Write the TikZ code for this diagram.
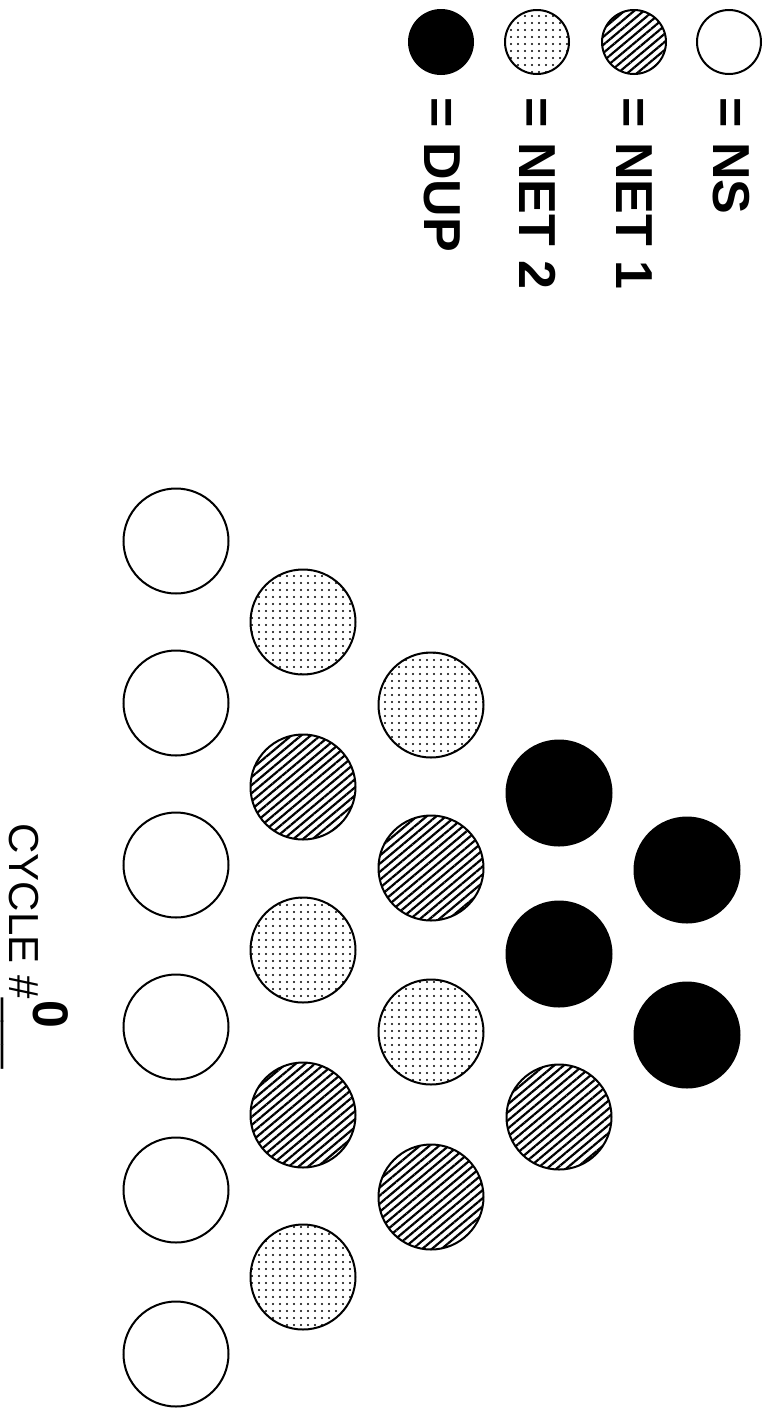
\documentclass[tikz,border=0pt]{standalone}
\usepackage{fontspec}
\setmainfont{Liberation Sans}
\usetikzlibrary{patterns.meta}

\begin{document}
\begin{tikzpicture}[x=0.5pt, y=-0.5pt,
		disc/.style={circle, draw, line width=1pt, minimum size=52.5pt, inner sep=0pt},
		keydisc/.style={disc, minimum size=32pt},
		nsfill/.style={fill=white},
		netafill/.style={pattern={Lines[angle=40,distance=3.1pt,line width=1.1pt]}},
		netbfill/.style={pattern={Dots[distance=3.5pt,radius=0.6pt]}},
		dupfill/.style={fill=black},
		keytext/.style={rotate=-90, anchor=west, inner sep=0pt, font=\bfseries\fontsize{26}{26}\selectfont}]
				\fill[white] (0,0) rectangle (766,1409);
				\useasboundingbox (0,0) rectangle (766,1409);
				% legend
				\node[keydisc, nsfill] (keyns) at (729,42) {};
				\node[keydisc, netafill] (keyneta) at (634,42) {};
				\node[keydisc, netbfill] (keynetb) at (537,42) {};
				\node[keydisc, dupfill] (keydup) at (441,42) {};
				\node[keytext] (labns) at (731,97) {= NS};
				\node[keytext] (labneta) at (634,97) {= NET 1};
				\node[keytext] (labnetb) at (538,97) {= NET 2};
				\node[keytext] (labdup) at (442,97) {= DUP};
				% discs, column by column
				\foreach \name/\cx/\cy/\kind in {a1/176/541/nsfill, a2/176/703/nsfill, a3/176/865/nsfill,
						a4/176/1027/nsfill, a5/176/1190/nsfill, a6/176/1354/nsfill,
						b1/303/622/netbfill, b2/303/787/netafill, b3/303/950/netbfill, b4/303/1115/netafill, b5/303/1277/netbfill,
						c1/431/705/netbfill, c2/431/868/netafill, c3/431/1032/netbfill, c4/431/1197/netafill,
						d1/559/793/dupfill, d2/559/954/dupfill, d3/559/1117/netafill,
						e1/687/870/dupfill, e2/687/1035/dupfill}
					\node[disc, \kind] (\name) at (\cx,\cy) {};
				% cycle counter
				\node[rotate=-90, anchor=base west, inner sep=0pt, font=\fontsize{21}{21}\selectfont] (cycle) at (10,823) {CYCLE \#\_\_\_};
				\node[rotate=-90, anchor=base west, inner sep=0pt, font=\bfseries\fontsize{25}{25}\selectfont] (cyclenum) at (33,1000) {0};
			\end{tikzpicture}
\end{document}
